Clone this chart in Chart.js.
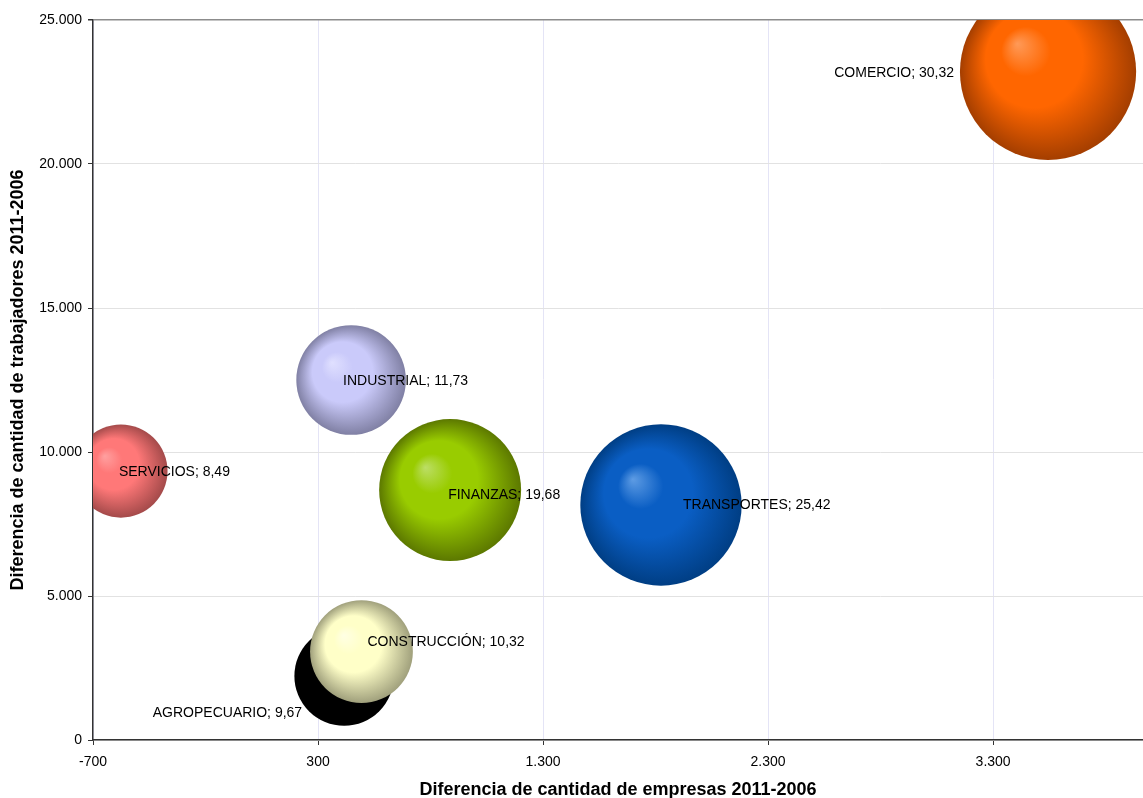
<!DOCTYPE html>
<html>
<head>
<meta charset="utf-8">
<title>Diferencia de empresas y trabajadores 2011-2006</title>
<script src="https://cdn.jsdelivr.net/npm/chart.js@4.4.1/dist/chart.umd.min.js"></script>
<style>
    html, body { margin: 0; padding: 0; background: #fff; }
</style>
</head>
<body>
<canvas id="myChart" width="1143" height="798"></canvas>
<script>
// data
var sectors = ['AGROPECUARIO', 'CONSTRUCCIÓN', 'SERVICIOS', 'INDUSTRIAL', 'FINANZAS', 'TRANSPORTES', 'COMERCIO'];
var empresas = [416, 493, -576, 447, 887, 1824, 3544];          // x
var trabajadores = [2220, 3070, 9340, 12500, 8680, 8160, 23200]; // y
var sizes = [9.67, 10.32, 8.49, 11.73, 19.68, 25.42, 30.32];     // bubble size
var xTicks = [-700, 300, 1300, 2300, 3300];
var xTickLabels = ['-700', '300', '1.300', '2.300', '3.300'];
var yTicks = [0, 5000, 10000, 15000, 20000, 25000];
var yTickLabels = ['0', '5.000', '10.000', '15.000', '20.000', '25.000'];

// [highlight, base, edge] for the shaded spheres
var sphereColors = [
    ['#000000', '#000000', '#000000'],
    ['#FFFFE4', '#FFFFC8', '#A0A07C'],
    ['#FFA0A0', '#FF7878', '#A44A4A'],
    ['#E0E0FF', '#CACAFA', '#8080A4'],
    ['#BCDE66', '#99CC00', '#5C7800'],
    ['#5E9CE4', '#0A5EC4', '#003E84'],
    ['#FF9A58', '#FF6600', '#A43E00']
];
// label placement relative to bubble centre: [dx, dy, align]
var labelPlace = [
    [-42, 37, 'right'],
    [6, -9, 'left'],
    [-2, 1, 'left'],
    [-8, 1, 'left'],
    [-2, 5, 'left'],
    [22, 0, 'left'],
    [-94, 1, 'right']
];

var FONT = "'Liberation Sans', Arial, sans-serif";

function sphere(ctx) {
    var i = ctx.dataIndex;
    var c = sphereColors[i];
    var chart = ctx.chart;
    if (!chart.chartArea || !ctx.raw || c[0] === c[2]) return c[1];
    var cx = chart.scales.x.getPixelForValue(ctx.raw.x);
    var cy = chart.scales.y.getPixelForValue(ctx.raw.y);
    var r = ctx.raw.r;
    var g = chart.ctx.createRadialGradient(cx - 0.35 * r, cy - 0.32 * r, 0, cx, cy, r);
    g.addColorStop(0, c[0]);
    g.addColorStop(0.28, c[1]);
    g.addColorStop(0.55, c[1]);
    g.addColorStop(1, c[2]);
    return g;
}

var bubbleLabels = {
    id: 'bubbleLabels',
    afterDatasetsDraw: function(chart) {
        var ctx = chart.ctx;
        var meta = chart.getDatasetMeta(0);
        ctx.save();
        ctx.font = '14px ' + FONT;
        ctx.fillStyle = '#000';
        ctx.textBaseline = 'middle';
        meta.data.forEach(function(pt, i) {
            var p = labelPlace[i];
            ctx.textAlign = p[2];
            var txt = sectors[i] + '; ' + sizes[i].toFixed(2).replace('.', ',');
            ctx.fillText(txt, pt.x + p[0], pt.y + p[1]);
        });
        ctx.restore();
    }
};

var config = {
    type: 'bubble',
    data: {
        labels: sectors,
        datasets: [{
            label: 'Sectores',
            data: sectors.map(function(s, i) {
                return { x: empresas[i], y: trabajadores[i], r: 16 * Math.sqrt(sizes[i]) };
            }),
            backgroundColor: sphere,
            hoverBackgroundColor: sphere,
            borderWidth: 0,
            hoverBorderWidth: 0,
            hoverRadius: 0,
            clip: 0
        }]
    },
    options: {
        responsive: false,
        animation: false,
        layout: { autoPadding: false, padding: { top: 20, right: 0, left: 0, bottom: 0 } },
        plugins: {
            legend: { display: false },
            tooltip: { enabled: false }
        },
        scales: {
            x: {
                type: 'linear',
                min: -700,
                max: 3966,
                afterBuildTicks: function(scale) {
                    scale.ticks = xTicks.map(function(v) { return { value: v }; });
                },
                afterFit: function(scale) { scale.height = 58; },
                ticks: {
                    color: '#000',
                    font: { family: FONT, size: 14 },
                    padding: 9,
                    maxRotation: 0,
                    callback: function(v, idx) { return xTickLabels[idx]; }
                },
                grid: {
                    color: '#E4E4F6',
                    lineWidth: 1,
                    tickLength: 5,
                    tickColor: '#333'
                },
                border: { color: '#333', width: 1.5 },
                title: {
                    display: true,
                    text: 'Diferencia de cantidad de empresas 2011-2006',
                    color: '#000',
                    font: { family: FONT, size: 18, weight: 'bold' },
                    padding: { top: 0, bottom: -3 }
                }
            },
            y: {
                type: 'linear',
                min: 0,
                max: 25000,
                afterBuildTicks: function(scale) {
                    scale.ticks = yTicks.map(function(v) { return { value: v }; });
                },
                afterFit: function(scale) { scale.width = 93; },
                ticks: {
                    color: '#000',
                    font: { family: FONT, size: 14 },
                    padding: 6,
                    callback: function(v, idx) { return yTickLabels[idx]; }
                },
                grid: {
                    color: function(c) { return c.tick && c.tick.value === 25000 ? '#8C8C8C' : '#E2E2E2'; },
                    lineWidth: function(c) { return c.tick && c.tick.value === 25000 ? 1.5 : 1; },
                    tickLength: 5,
                    tickColor: '#333'
                },
                border: { color: '#333', width: 1.5 },
                title: {
                    display: true,
                    text: 'Diferencia de cantidad de trabajadores 2011-2006',
                    color: '#000',
                    font: { family: FONT, size: 18, weight: 'bold' },
                    padding: { top: 7, bottom: 0 }
                }
            }
        }
    },
    plugins: [bubbleLabels]
};

window.addEventListener('DOMContentLoaded', function() {
    var ctx = document.getElementById('myChart').getContext('2d');
    window.myBubble = new Chart(ctx, config);
});
</script>
</body>
</html>
